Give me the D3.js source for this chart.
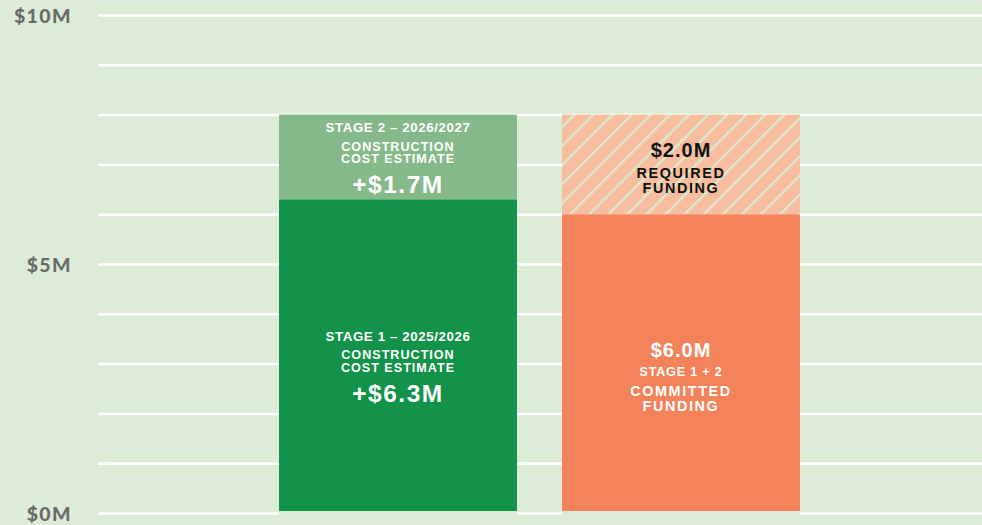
<!DOCTYPE html>
<html>
<body>
    <style>
        body, html {
            margin: 0;
            padding: 0;
            background: #dcecd7;
        }
        svg { display: block; }
    </style>

    <svg width="982" height="525"></svg>

    <script src="https://d3js.org/d3.v7.min.js"></script>

    <script>
        // data
        var bars = ["cost", "funding"];
        var costStages = [6.3, 1.7];
        var fundingParts = [6.0, 2.0];
        var yTicks = [0, 1, 2, 3, 4, 5, 6, 7, 8, 9, 10];
        var yTickLabels = ["$0M", "", "", "", "", "$5M", "", "", "", "", "$10M"];
        var costLabels = [
            ["STAGE 1 – 2025/2026", "CONSTRUCTION", "COST ESTIMATE", "+$6.3M"],
            ["STAGE 2 – 2026/2027", "CONSTRUCTION", "COST ESTIMATE", "+$1.7M"]
        ];
        var fundingLabels = [
            ["$6.0M", "STAGE 1 + 2", "COMMITTED", "FUNDING"],
            ["$2.0M", "REQUIRED", "FUNDING"]
        ];

        var width = 982, height = 525;
        var svg = d3.select("svg");

        var bgColor = "#dcecd7";
        var gridColor = "#ffffff";
        var stage1Color = "#13924a";
        var stage2Color = "#86b98a";
        var committedColor = "#f4825a";
        var requiredColor = "#f8bc9e";

        var y = d3.scaleLinear().domain([0, 10]).range([513, 15]);
        var x = d3.scaleBand().domain(bars).range([234, 845])
            .paddingInner(0.159).paddingOuter(0.159);

        // hatch pattern
        var defs = svg.append("defs");
        var pat = defs.append("pattern")
            .attr("id", "hatch")
            .attr("patternUnits", "userSpaceOnUse")
            .attr("width", 13.5).attr("height", 13.5)
            .attr("patternTransform", "rotate(45)");
        pat.append("rect").attr("width", 13.5).attr("height", 13.5).attr("fill", requiredColor);
        pat.append("line").attr("x1", 1).attr("x2", 1).attr("y1", 0).attr("y2", 13.5)
            .attr("stroke", "#dbe9cf").attr("stroke-width", 2.8);

        // grid
        var axis = d3.axisLeft(y).tickValues(yTicks)
            .tickSize(-(width - 98))
            .tickFormat(function (d, i) { return yTickLabels[i]; })
            .tickPadding(26);
        var g = svg.append("g").attr("transform", "translate(98,0)").call(axis);
        g.select(".domain").remove();
        g.selectAll(".tick line").attr("stroke", gridColor).attr("stroke-width", 2.5);
        g.selectAll(".tick text")
            .attr("fill", "#6a6a6a")
            .attr("font-family", "Lato, sans-serif")
            .attr("font-weight", 900)
            .attr("font-size", 19.5)
            .attr("letter-spacing", 1.4)
            .attr("dy", "0.4em");

        function stack(vals) {
            var acc = 0;
            return vals.map(function (v) { var s = acc; acc += v; return [s, acc]; });
        }

        var costStack = stack(costStages);
        var fundStack = stack(fundingParts);

        var bx = x.bandwidth();

        // cost bar
        var costColors = [stage1Color, stage2Color];
        svg.selectAll(".cost").data(costStack).enter().append("rect")
            .attr("x", x("cost"))
            .attr("y", function (d) { return y(d[1]); })
            .attr("width", bx)
            .attr("height", function (d) { return y(d[0]) - y(d[1]); })
            .attr("fill", function (d, i) { return costColors[i]; });

        var fundColors = [committedColor, "url(#hatch)"];
        svg.selectAll(".fund").data(fundStack).enter().append("rect")
            .attr("x", x("funding"))
            .attr("y", function (d) { return y(d[1]); })
            .attr("width", bx)
            .attr("height", function (d) { return y(d[0]) - y(d[1]); })
            .attr("fill", function (d, i) { return fundColors[i]; });

        // cover the baseline under the bars a little
        svg.selectAll(".base").data(bars).enter().append("rect")
            .attr("x", function (d) { return x(d); })
            .attr("y", y(0) - 2)
            .attr("width", bx).attr("height", 4)
            .attr("fill", bgColor);

        // label layout: baseline offsets from segment centre, sizes, spacing
        var costLayout = [
            { off: [-15.5, 2.8, 15.8, 45.5], size: [13.3, 12.6, 12.6, 24.5], sp: [0.6, 1, 1, 1.5] },
            { off: [-24.7, -6.3, 6, 36.3], size: [13.3, 12.6, 12.6, 24.5], sp: [0.6, 1, 1, 1.5] }
        ];
        var fundLayout = [
            { off: [-6.9, 12.1, 32.2, 47], size: [20, 12.6, 14.4, 14.4], sp: [1, 0.8, 1.6, 1.6] },
            { off: [-7.7, 13.9, 28.5], size: [20, 14.4, 14.4], sp: [1, 1.6, 1.6] }
        ];

        function drawLabels(key, st, labels, layout, colors) {
            st.forEach(function (d, i) {
                var cy = (y(d[0]) + y(d[1])) / 2;
                var cx = x(key) + bx / 2;
                svg.append("g").selectAll("text").data(labels[i]).enter().append("text")
                    .attr("x", cx)
                    .attr("y", function (t, j) { return cy + layout[i].off[j]; })
                    .attr("text-anchor", "middle")
                    .attr("font-family", "'Liberation Sans', Arial, sans-serif")
                    .attr("font-weight", "bold")
                    .attr("font-size", function (t, j) { return layout[i].size[j]; })
                    .attr("letter-spacing", function (t, j) { return layout[i].sp[j]; })
                    .attr("fill", colors[i])
                    .text(function (t) { return t; });
            });
        }

        drawLabels("cost", costStack, costLabels, costLayout, ["#ffffff", "#ffffff"]);
        drawLabels("funding", fundStack, fundingLabels, fundLayout, ["#ffffff", "#111111"]);
    </script>
</body>
</html>
